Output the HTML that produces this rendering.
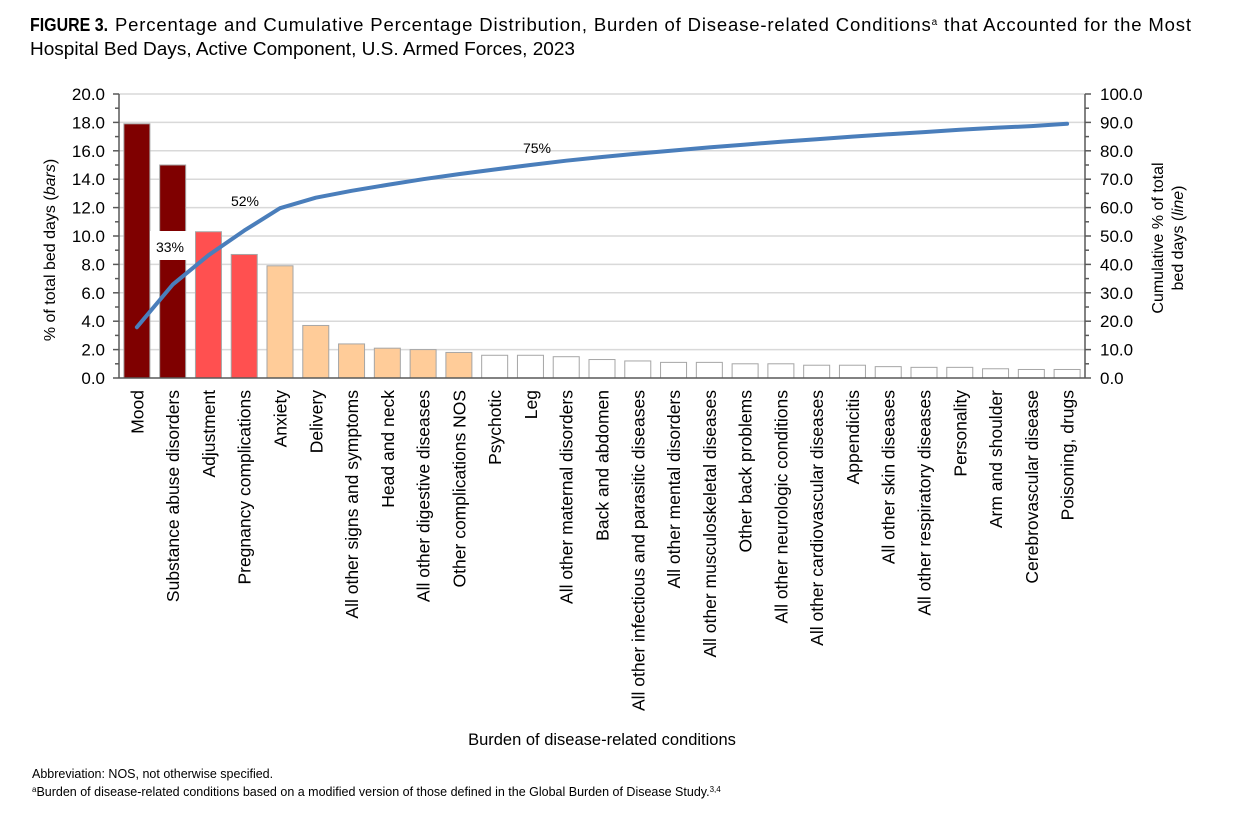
<!DOCTYPE html>
<html><head><meta charset="utf-8"><style>
body{margin:0;background:#fff;width:1250px;height:832px;overflow:hidden;font-family:"Liberation Sans",Arial,sans-serif}
</style></head><body>
<svg width="1250" height="832" xmlns="http://www.w3.org/2000/svg" font-family="Liberation Sans, Arial, sans-serif">
<text x="30" y="31" font-size="18" fill="#000" font-weight="bold" textLength="78" lengthAdjust="spacingAndGlyphs">FIGURE 3.</text>
<text x="115" y="31" font-size="18.5" textLength="1076" lengthAdjust="spacing">Percentage and Cumulative Percentage Distribution, Burden of Disease-related Conditions<tspan font-size="10" dy="-6">a</tspan><tspan dy="6"> that Accounted for the Most</tspan></text>
<text x="30" y="55" font-size="18.5" textLength="545" lengthAdjust="spacingAndGlyphs">Hospital Bed Days, Active Component, U.S. Armed Forces, 2023</text>
<g id="grid" stroke="#d9d9d9" stroke-width="1.5">
<line x1="119" x2="1085" y1="94" y2="94"/><line x1="119" x2="1085" y1="122.4" y2="122.4"/><line x1="119" x2="1085" y1="150.8" y2="150.8"/><line x1="119" x2="1085" y1="179.2" y2="179.2"/><line x1="119" x2="1085" y1="207.6" y2="207.6"/><line x1="119" x2="1085" y1="236" y2="236"/><line x1="119" x2="1085" y1="264.4" y2="264.4"/><line x1="119" x2="1085" y1="292.8" y2="292.8"/><line x1="119" x2="1085" y1="321.2" y2="321.2"/><line x1="119" x2="1085" y1="349.6" y2="349.6"/>
</g>
<g id="bars"></g>
<rect x="150" y="231" width="45" height="29" fill="#fff"/>
<text x="170" y="252" font-size="14" text-anchor="middle">33%</text>
<text x="245" y="206" font-size="14" text-anchor="middle">52%</text>
<text x="537" y="153" font-size="14" text-anchor="middle">75%</text>
<polyline id="line" fill="none" stroke="#4a7ebb" stroke-width="4" stroke-linejoin="round" stroke-linecap="round"/>
<g stroke="#595959" stroke-width="1.5" id="axes">
<line x1="119" y1="94" x2="119" y2="378"/><line x1="1085" y1="94" x2="1085" y2="378"/><line x1="119" y1="378" x2="1085" y2="378"/>
</g>
<g id="ticks" font-size="17"></g>
<text transform="translate(55,250) rotate(-90)" font-size="16" text-anchor="middle">% of total bed days (<tspan font-style="italic">bars</tspan>)</text>
<text transform="translate(1163,238) rotate(-90)" font-size="16" text-anchor="middle">Cumulative % of total</text>
<text transform="translate(1183,238) rotate(-90)" font-size="16" text-anchor="middle">bed days (<tspan font-style="italic">line</tspan>)</text>
<g id="labels" font-size="17.5"></g>
<text x="602" y="745" font-size="16.5" text-anchor="middle">Burden of disease-related conditions</text>
<text x="32" y="778" font-size="12.5">Abbreviation: NOS, not otherwise specified.</text>
<text x="32" y="796" font-size="12.5"><tspan font-size="8" dy="-4">a</tspan><tspan dy="4">Burden of disease-related conditions based on a modified version of those defined in the Global Burden of Disease Study.</tspan><tspan font-size="8" dy="-4">3,4</tspan></text>
</svg>
<script>
const ns="http://www.w3.org/2000/svg";
const names=["Mood","Substance abuse disorders","Adjustment","Pregnancy complications","Anxiety","Delivery","All other signs and symptoms","Head and neck","All other digestive diseases","Other complications NOS","Psychotic","Leg","All other maternal disorders","Back and abdomen","All other infectious and parasitic diseases","All other mental disorders","All other musculoskeletal diseases","Other back problems","All other neurologic conditions","All other cardiovascular diseases","Appendicitis","All other skin diseases","All other respiratory diseases","Personality","Arm and shoulder","Cerebrovascular disease","Poisoning, drugs"];
const vals=[17.9,15.0,10.3,8.7,7.9,3.7,2.4,2.1,2.0,1.8,1.6,1.6,1.5,1.3,1.2,1.1,1.1,1.0,1.0,0.9,0.9,0.8,0.75,0.75,0.65,0.6,0.6];
const cum=[17.9,32.9,43.2,51.9,59.8,63.5,65.9,68.0,70.0,71.8,73.4,75.0,76.5,77.8,79.0,80.1,81.2,82.2,83.2,84.1,85.0,85.8,86.6,87.4,88.1,88.7,89.5];
const w=966/27, y0=378, sc=14.2;
const bars=document.getElementById('bars'),labels=document.getElementById('labels');
let pts=[];
vals.forEach((v,i)=>{
 const cx=119+w*(i+0.5);
 const r=document.createElementNS(ns,'rect');
 r.setAttribute('x',cx-13);r.setAttribute('width',26);
 r.setAttribute('y',y0-v*sc);r.setAttribute('height',v*sc);
 let f=i<2?'#7f0000':i<4?'#ff5050':i<10?'#ffcc99':'#fff';
 r.setAttribute('fill',f);r.setAttribute('stroke','#a6a6a6');r.setAttribute('stroke-width',1);
 bars.appendChild(r);
 const t=document.createElementNS(ns,'text');
 t.setAttribute('transform',`translate(${cx+6.5},390) rotate(-90)`);
 t.setAttribute('text-anchor','end');t.textContent=names[i];
 labels.appendChild(t);
 pts.push(cx.toFixed(1)+','+(y0-cum[i]*2.84).toFixed(1));
});
document.getElementById('line').setAttribute('points',pts.join(' '));
const tk=document.getElementById('ticks'),ax=document.getElementById('axes');
for(let k=0;k<=20;k++){
 const y=y0-k*14.2;
 const major=k%2==0;
 const l=document.createElementNS(ns,'line');
 l.setAttribute('x1',major?113:115);l.setAttribute('x2',119);l.setAttribute('y1',y);l.setAttribute('y2',y);ax.appendChild(l);
 const l2=document.createElementNS(ns,'line');
 l2.setAttribute('x1',1085);l2.setAttribute('x2',major?1091:1089);l2.setAttribute('y1',y);l2.setAttribute('y2',y);ax.appendChild(l2);
 if(major){
  const a=document.createElementNS(ns,'text');a.setAttribute('x',105);a.setAttribute('y',y+6);a.setAttribute('text-anchor','end');a.textContent=(k).toFixed(1);tk.appendChild(a);
  const b=document.createElementNS(ns,'text');b.setAttribute('x',1100);b.setAttribute('y',y+6);b.textContent=(k*5).toFixed(1);tk.appendChild(b);
 }
}
</script>
</body></html>
